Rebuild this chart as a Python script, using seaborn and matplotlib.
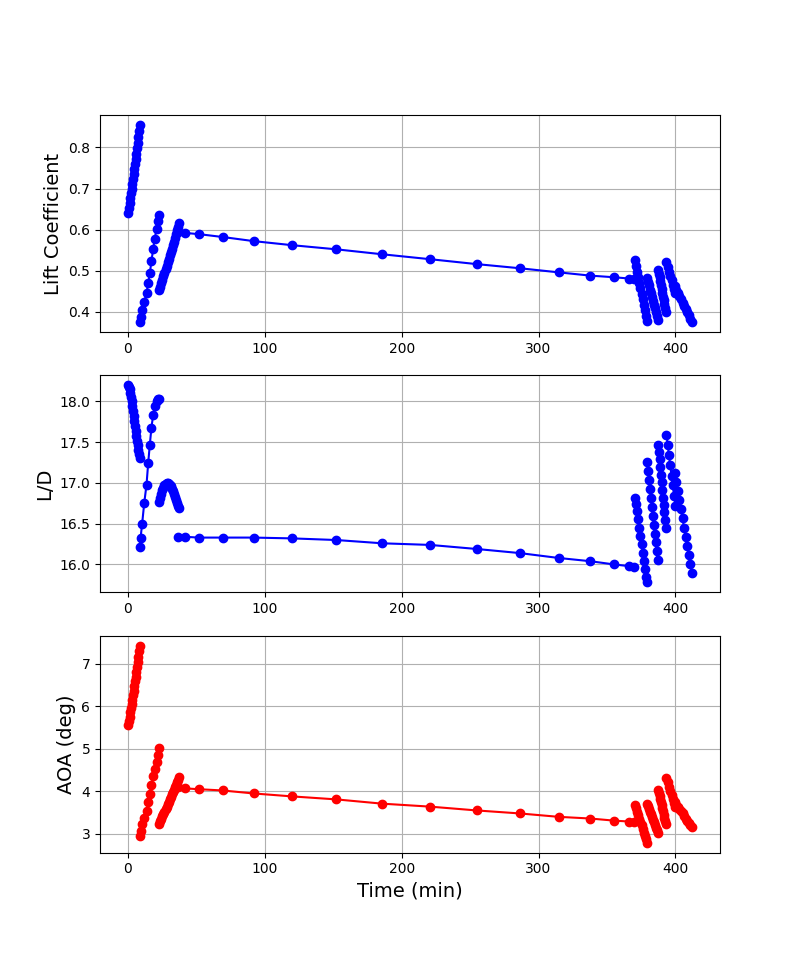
import matplotlib
matplotlib.use("Agg")
import matplotlib.pyplot as plt
import seaborn as sns
import pandas as pd

# ---- data ----
# climb phase 1
t_c1 = [0.2, 0.7, 1.2, 1.7, 2.2, 2.7, 3.2, 3.7, 4.2, 4.7, 5.2, 5.7, 6.2, 6.7, 7.2, 7.7, 8.2, 8.7]
cl_c1 = [0.641, 0.652, 0.664, 0.676, 0.688, 0.700, 0.712, 0.724, 0.736, 0.748, 0.760, 0.772,
         0.785, 0.798, 0.811, 0.825, 0.840, 0.855]
ld_c1 = [18.20, 18.18, 18.15, 18.11, 18.06, 18.00, 17.94, 17.88, 17.82, 17.76, 17.70, 17.64,
         17.58, 17.52, 17.46, 17.40, 17.35, 17.31]
aoa_c1 = [5.56, 5.66, 5.76, 5.86, 5.96, 6.06, 6.16, 6.26, 6.37, 6.48, 6.59, 6.70,
          6.81, 6.92, 7.04, 7.16, 7.29, 7.43]

# climb phase 2
t_c2 = [8.7, 9.2, 10.4, 11.9, 13.6, 14.8, 16.0, 17.2, 18.4, 19.6, 20.9, 22.0, 22.8]
cl_c2 = [0.375, 0.388, 0.404, 0.425, 0.445, 0.470, 0.494, 0.523, 0.552, 0.578, 0.601, 0.621, 0.635]
ld_c2 = [16.21, 16.32, 16.50, 16.75, 16.98, 17.24, 17.47, 17.68, 17.83, 17.94, 18.00, 18.03, 18.03]
aoa_c2 = [2.95, 3.07, 3.22, 3.38, 3.54, 3.74, 3.94, 4.15, 4.35, 4.53, 4.69, 4.85, 5.01]

# climb phase 3
t_c3 = [22.8, 23.6, 24.4, 25.2, 26.0, 26.7, 27.5, 28.3, 29.1, 29.8, 30.6, 31.4, 32.2, 32.9,
        33.7, 34.5, 35.3, 36.0, 36.8, 37.5]
cl_c3 = [0.453, 0.461, 0.469, 0.477, 0.486, 0.494, 0.503, 0.511, 0.520, 0.528, 0.537, 0.545,
         0.554, 0.562, 0.571, 0.580, 0.589, 0.598, 0.607, 0.617]
ld_c3 = [16.77, 16.82, 16.87, 16.91, 16.94, 16.97, 16.99, 17.00, 17.00, 16.99, 16.98, 16.96,
         16.93, 16.90, 16.87, 16.83, 16.79, 16.75, 16.72, 16.69]
aoa_c3 = [3.24, 3.30, 3.35, 3.41, 3.47, 3.52, 3.58, 3.64, 3.70, 3.76, 3.81, 3.87, 3.93, 3.99,
          4.04, 4.10, 4.16, 4.21, 4.27, 4.33]

# cruise
t_cr = [36.7, 41.5, 51.7, 69.2, 91.8, 120.2, 152.3, 185.7, 220.7, 254.9, 286.2, 314.6,
        337.9, 355.4, 366.0, 369.5]
cl_cr = [0.593, 0.592, 0.589, 0.582, 0.572, 0.562, 0.552, 0.540, 0.528, 0.516, 0.506, 0.496,
         0.488, 0.484, 0.481, 0.480]
ld_cr = [16.34, 16.34, 16.33, 16.33, 16.33, 16.32, 16.30, 16.26, 16.24, 16.19, 16.14, 16.08,
         16.04, 16.00, 15.98, 15.97]
aoa_cr = [4.09, 4.07, 4.05, 4.02, 3.95, 3.88, 3.81, 3.71, 3.64, 3.55, 3.48, 3.40,
          3.36, 3.31, 3.29, 3.28]

# descent phase 1
t_d1 = [370.5, 371.3, 372.1, 372.9, 373.7, 374.5, 375.4, 376.2, 377.0, 377.8, 378.6, 379.4]
cl_d1 = [0.525, 0.511, 0.497, 0.484, 0.471, 0.457, 0.444, 0.430, 0.417, 0.404, 0.390, 0.377]
ld_d1 = [16.82, 16.74, 16.66, 16.56, 16.45, 16.35, 16.25, 16.14, 16.04, 15.94, 15.85, 15.78]
aoa_d1 = [3.68, 3.60, 3.52, 3.44, 3.36, 3.28, 3.20, 3.12, 3.03, 2.95, 2.87, 2.79]

# descent phase 2
t_d2 = [379.6, 380.3, 381.0, 381.6, 382.3, 383.0, 383.6, 384.3, 385.0, 385.6, 386.3, 387.0]
cl_d2 = [0.482, 0.473, 0.464, 0.454, 0.445, 0.436, 0.427, 0.417, 0.408, 0.399, 0.390, 0.380]
ld_d2 = [17.26, 17.15, 17.04, 16.93, 16.82, 16.71, 16.60, 16.49, 16.38, 16.27, 16.16, 16.05]
aoa_d2 = [3.71, 3.65, 3.58, 3.52, 3.46, 3.39, 3.33, 3.27, 3.20, 3.14, 3.08, 3.01]

# descent phase 3
t_d3 = [387.5, 388.0, 388.5, 389.0, 389.5, 390.0, 390.5, 391.0, 391.5, 392.0, 392.5, 393.0]
cl_d3 = [0.502, 0.493, 0.484, 0.474, 0.465, 0.456, 0.446, 0.437, 0.428, 0.419, 0.409, 0.400]
ld_d3 = [17.47, 17.38, 17.29, 17.19, 17.10, 17.01, 16.91, 16.82, 16.73, 16.64, 16.54, 16.45]
aoa_d3 = [4.04, 3.97, 3.89, 3.82, 3.75, 3.67, 3.60, 3.53, 3.45, 3.38, 3.31, 3.23]

# descent phase 4
t_d4 = [393.5, 394.4, 395.3, 396.2, 397.2, 398.1, 399.0, 400.0]
cl_d4 = [0.520, 0.509, 0.498, 0.488, 0.477, 0.466, 0.456, 0.445]
ld_d4 = [17.59, 17.47, 17.34, 17.22, 17.09, 16.97, 16.84, 16.72]
aoa_d4 = [4.31, 4.21, 4.11, 4.01, 3.92, 3.82, 3.72, 3.62]

# descent phase 5
t_d5 = [399.5, 400.6, 401.8, 402.9, 404.0, 405.2, 406.3, 407.5, 408.6, 409.7, 410.9, 412.0]
cl_d5 = [0.462, 0.454, 0.446, 0.438, 0.430, 0.422, 0.415, 0.407, 0.399, 0.391, 0.383, 0.375]
ld_d5 = [17.12, 17.01, 16.90, 16.79, 16.68, 16.57, 16.45, 16.34, 16.23, 16.12, 16.01, 15.90]
aoa_d5 = [3.74, 3.69, 3.64, 3.59, 3.54, 3.49, 3.41, 3.36, 3.31, 3.26, 3.21, 3.16]

phases = ["climb1", "climb2", "climb3", "cruise", "desc1", "desc2", "desc3", "desc4", "desc5"]
t_all = [t_c1, t_c2, t_c3, t_cr, t_d1, t_d2, t_d3, t_d4, t_d5]
cl_all = [cl_c1, cl_c2, cl_c3, cl_cr, cl_d1, cl_d2, cl_d3, cl_d4, cl_d5]
ld_all = [ld_c1, ld_c2, ld_c3, ld_cr, ld_d1, ld_d2, ld_d3, ld_d4, ld_d5]
aoa_all = [aoa_c1, aoa_c2, aoa_c3, aoa_cr, aoa_d1, aoa_d2, aoa_d3, aoa_d4, aoa_d5]

rows = []
for ph, ts, cs, ls, aas in zip(phases, t_all, cl_all, ld_all, aoa_all):
    for i in range(len(ts)):
        rows.append({"phase": ph, "time": ts[i], "cl": cs[i], "ld": ls[i], "aoa": aas[i],
                     "idx": i})
df = pd.DataFrame(rows)

fig, axes = plt.subplots(3, 1, figsize=(8, 9.58), dpi=100)

specs = [("cl", "Lift Coefficient", "b"), ("ld", "L/D", "b"), ("aoa", "AOA (deg)", "r")]
for ax, (col, label, color) in zip(axes, specs):
    sns.lineplot(data=df, x="time", y=col, units="phase", estimator=None, sort=False,
                 color=color, marker="o", markersize=6, markeredgecolor=color,
                 markeredgewidth=1.0, linewidth=1.5, ax=ax)
    ax.set_ylabel(label, fontsize=14)
    ax.set_xlabel("")
    ax.grid(True)
    ax.margins(x=0.05, y=0.05)

axes[2].set_xlabel("Time (min)", fontsize=14)

fig.savefig("out.png", dpi=100)
